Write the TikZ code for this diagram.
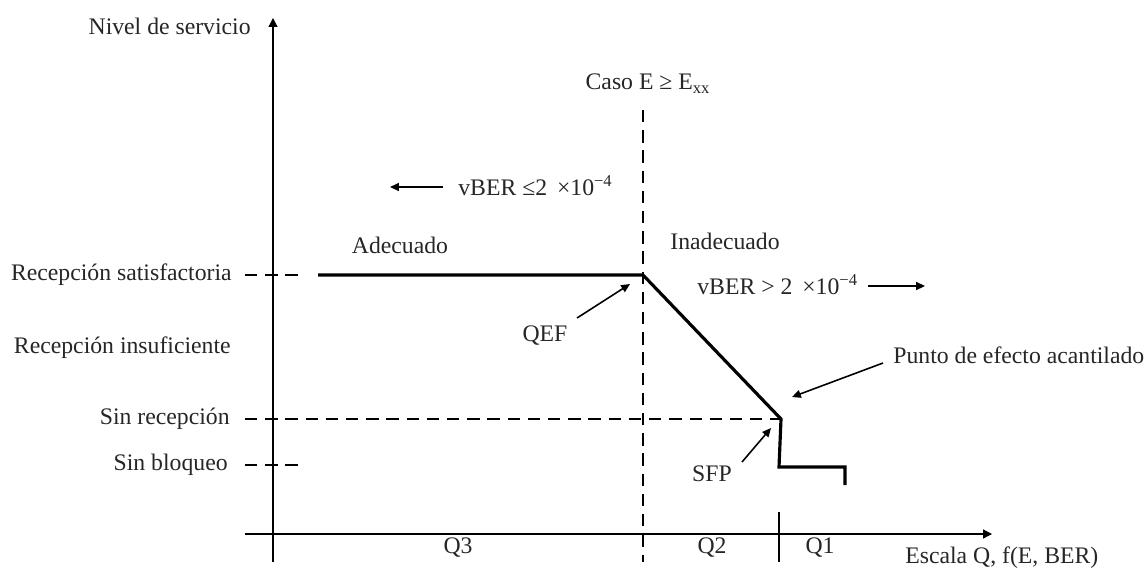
\documentclass[tikz,border=0pt]{standalone}
\usepackage{fontspec}
\setmainfont{Liberation Serif}
\usetikzlibrary{arrows.meta}

\begin{document}
\begin{tikzpicture}[x=0.02cm, y=-0.02cm,
    lbl/.style={font=\fontsize{13.5}{16}\selectfont, text=black!85, inner sep=0pt},
    axis/.style={line width=0.7pt, -{Triangle[length=5pt,width=5pt]}},
    guide/.style={line width=0.7pt, dash pattern=on 7pt off 4.5pt},
    curve/.style={line width=1.8pt},
    pointer/.style={line width=0.9pt, -{Triangle[length=5pt,width=4.5pt]}}
]
    \useasboundingbox (0,0) rectangle (1148,569);

    % axes
    \coordinate (ytop) at (273,18);
    \coordinate (ybot) at (273,562);
    \coordinate (xleft) at (245,534);
    \coordinate (xright) at (992,534);
    \draw[axis] (ybot) -- (ytop);
    \draw[axis] (xleft) -- (xright);

    % service curve
    \coordinate (start) at (318,275);
    \coordinate (qef) at (643,275);
    \coordinate (sfp) at (781,419);
    \coordinate (drop) at (779,467);
    \coordinate (stepr) at (845,467);
    \coordinate (stepend) at (845,485);
    \draw[curve] (start) -- (qef) -- (sfp) -- (drop) -- (stepr) -- (stepend);

    % guide lines
    \coordinate (satl) at (245,275);
    \coordinate (satr) at (305,275);
    \coordinate (recl) at (245,419);
    \coordinate (blql) at (245,465);
    \coordinate (blqr) at (305,465);
    \coordinate (caset) at (643,110);
    \coordinate (caseb) at (643,562);
    \draw[guide] (satl) -- (satr);
    \draw[guide] (recl) -- (sfp);
    \draw[guide] (blql) -- (blqr);
    \draw[guide] (caset) -- (caseb);
    \coordinate (tickt) at (779,512);
    \coordinate (tickb) at (779,562);
    \draw[line width=0.7pt] (tickt) -- (tickb);

    % level labels
    \node[lbl, anchor=east] (nivel) at (251,26) {Nivel de servicio};
    \node[lbl, anchor=east] (sat) at (232,275) {Recepción satisfactoria};
    \node[lbl, anchor=east] (insuf) at (231,348) {Recepción insuficiente};
    \node[lbl, anchor=east] (sinrec) at (230,419) {Sin recepción};
    \node[lbl, anchor=east] (sinblq) at (228,465) {Sin bloqueo};

    % regions
    \node[lbl] (caso) at (648,84) {Caso E ≥ E\textsubscript{xx}};
    \node[lbl, anchor=west] (berlow) at (458,186) {vBER ≤2 \,×10\textsuperscript{−4}};
    \coordinate (lowt) at (443,187);
    \coordinate (lowh) at (390,187);
    \draw[pointer] (lowt) -- (lowh);
    \node[lbl] (adec) at (400,245) {Adecuado};
    \node[lbl] (inadec) at (725,241) {Inadecuado};
    \node[lbl, anchor=west] (berhigh) at (697,285) {vBER > 2 \,×10\textsuperscript{−4}};
    \coordinate (hight) at (868,286);
    \coordinate (highh) at (925,286);
    \draw[pointer] (hight) -- (highh);

    % point labels
    \node[lbl] (qeflbl) at (545,336) {QEF};
    \coordinate (qeft) at (577,318);
    \coordinate (qefh) at (630,284);
    \draw[pointer] (qeft) -- (qefh);
    \node[lbl, anchor=west] (cliff) at (893,355) {Punto de efecto acantilado};
    \coordinate (clifft) at (883,363);
    \coordinate (cliffh) at (792,397);
    \draw[pointer] (clifft) -- (cliffh);
    \node[lbl] (sfplbl) at (712,474) {SFP};
    \coordinate (sfpt) at (742,462);
    \coordinate (sfph) at (771,428);
    \draw[pointer] (sfpt) -- (sfph);

    % scale
    \node[lbl] (q3) at (458,548) {Q3};
    \node[lbl] (q2) at (712,548) {Q2};
    \node[lbl] (q1) at (820,548) {Q1};
    \node[lbl, anchor=west] (escala) at (905,558) {Escala Q, f(E, BER)};
\end{tikzpicture}
\end{document}
